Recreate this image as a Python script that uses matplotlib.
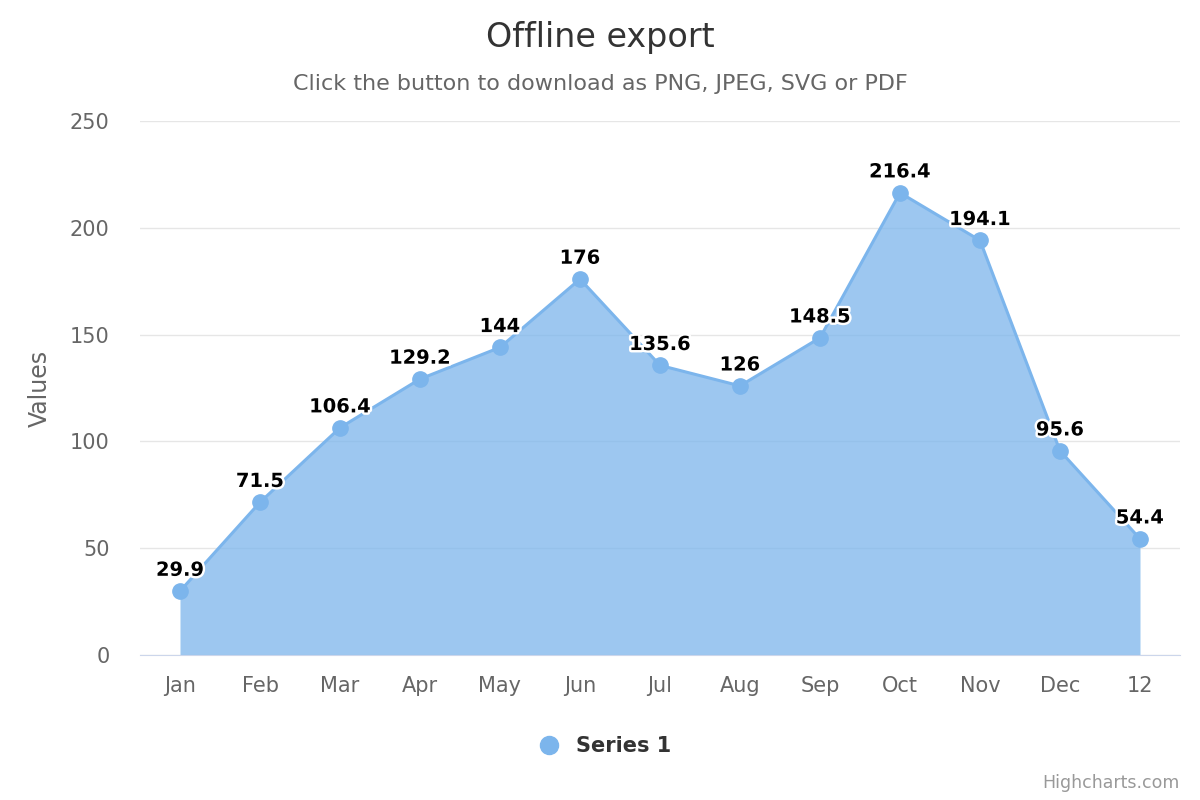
import numpy as np
import matplotlib.pyplot as plt
import matplotlib.patheffects as pe
from matplotlib.lines import Line2D

plt.rcParams['font.family'] = ['DejaVu Sans']

categories = ['Jan', 'Feb', 'Mar', 'Apr', 'May', 'Jun', 'Jul', 'Aug', 'Sep',
              'Oct', 'Nov', 'Dec', '12']
values = [29.9, 71.5, 106.4, 129.2, 144, 176, 135.6, 126, 148.5, 216.4,
          194.1, 95.6, 54.4]
labels = ['29.9', '71.5', '106.4', '129.2', '144', '176', '135.6', '126',
          '148.5', '216.4', '194.1', '95.6', '54.4']
y_ticks = [0, 50, 100, 150, 200, 250]

color = '#7cb5ec'

fig = plt.figure(figsize=(12, 8), dpi=100)
ax = fig.add_axes([140 / 1200, 1 - 655 / 800, 1040 / 1200, 534 / 800])

x = np.arange(len(categories))
ax.fill_between(x, 0, values, color=color, alpha=0.75, linewidth=0, zorder=2)
ax.plot(x, values, color=color, linewidth=2.2, zorder=3)
ax.plot(x, values, 'o', color=color, markersize=11, zorder=4)

for xi, v, lab in zip(x, values, labels):
    ax.annotate(lab, (xi, v), xytext=(0, 15), textcoords='offset points',
                ha='center', va='center', fontsize=14, fontweight='bold',
                color='black', zorder=5,
                path_effects=[pe.withStroke(linewidth=3.5, foreground='white')])

ax.set_xlim(-0.5, len(categories) - 0.5)
ax.set_ylim(0, 250)
ax.set_yticks(y_ticks)
ax.set_xticks(x)
ax.set_xticklabels(categories)
ax.tick_params(axis='both', length=0, labelsize=15, colors='#666666')
ax.tick_params(axis='x', pad=15)
ax.tick_params(axis='y', pad=22)
ax.grid(axis='y', color='#e6e6e6', linewidth=1, zorder=0)
ax.set_axisbelow(True)
for s in ['top', 'right', 'left']:
    ax.spines[s].set_visible(False)
ax.spines['bottom'].set_color('#ccd6eb')
ax.spines['bottom'].set_zorder(6)

ax.set_ylabel('Values', fontsize=17, color='#666666')
ax.yaxis.set_label_coords(-88 / 1040, 0.5)

fig.text(0.5, 1 - 37 / 800, 'Offline export', ha='center', va='center',
         fontsize=24, color='#333333')
fig.text(0.5, 1 - 84 / 800, 'Click the button to download as PNG, JPEG, SVG or PDF',
         ha='center', va='center', fontsize=16, color='#666666')

handle = Line2D([], [], marker='o', linestyle='none', color=color, markersize=13)
fig.legend([handle], ['Series 1'], loc='center', bbox_to_anchor=(0.5, 1 - 746 / 800),
           frameon=False, prop={'size': 15, 'weight': 'bold'},
           labelcolor='#333333', handletextpad=0.3)

fig.text(1 - 20 / 1200, 1 - 783 / 800, 'Highcharts.com', ha='right', va='center',
         fontsize=12.5, color='#999999')

fig.savefig('out.png', dpi=100)
